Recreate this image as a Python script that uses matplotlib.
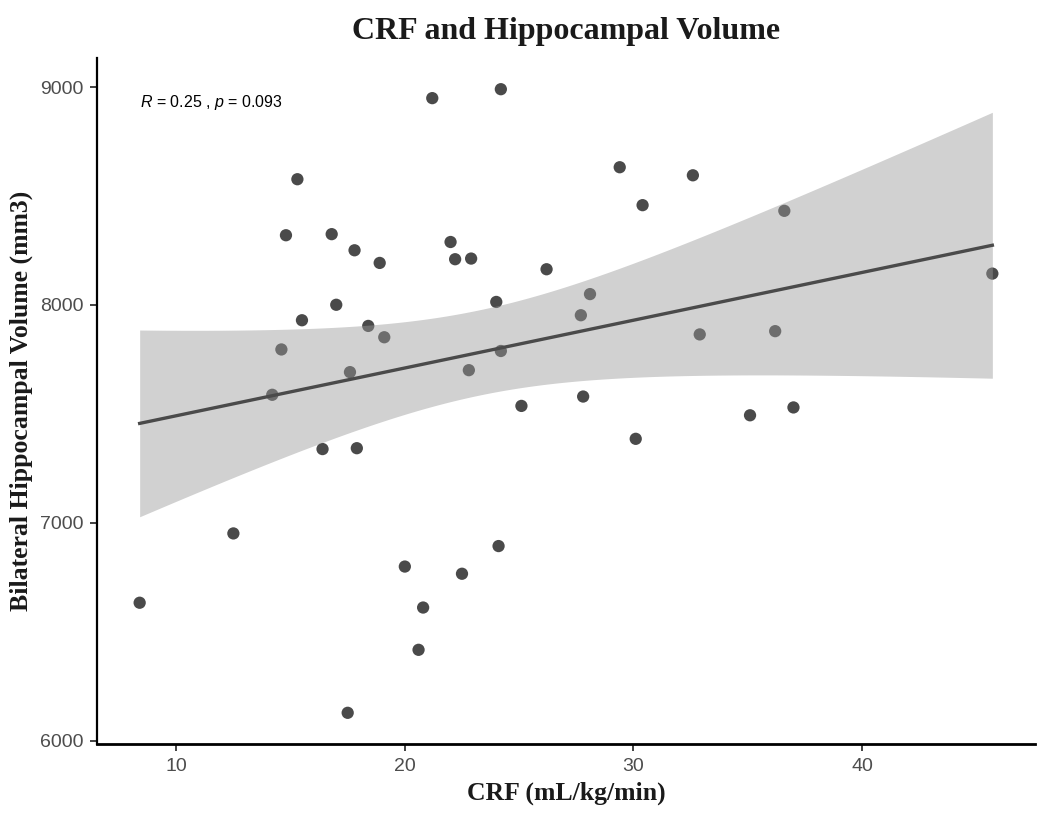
import numpy as np
import matplotlib
matplotlib.use("Agg")
import matplotlib.pyplot as plt

# CRF (mL/kg/min) and bilateral hippocampal volume (mm3)
crf = [21.2, 24.2, 15.3, 14.8, 16.8, 17.8, 18.9, 22.0, 22.2, 22.9,
       26.2, 24.0, 17.0, 15.5, 18.4, 19.1, 14.6, 24.2, 17.6, 22.8,
       14.2, 29.4, 32.6, 30.4, 36.6, 45.7, 28.1, 27.7, 32.9, 36.2,
       27.8, 25.1, 16.4, 17.9, 12.5, 8.4, 20.0, 22.5, 24.1, 20.8,
       20.6, 17.5, 35.1, 37.0, 30.1]
volume = [8949, 8990, 8577, 8320, 8325, 8251, 8193, 8289, 8210, 8213,
          8164, 8014, 8001, 7930, 7904, 7852, 7796, 7789, 7692, 7701,
          7588, 8632, 8595, 8458, 8432, 8144, 8050, 7953, 7865, 7880,
          7580, 7537, 7339, 7343, 6952, 6634, 6800, 6767, 6894, 6612,
          6418, 6129, 7494, 7530, 7386]
x_ticks = [10, 20, 30, 40]
y_ticks = [6000, 7000, 8000, 9000]
r_label = "$\\it{R}$ = 0.25 , $\\it{p}$ = 0.093"

plt.rcParams['mathtext.fontset'] = 'custom'
plt.rcParams['mathtext.rm'] = 'Liberation Sans'
plt.rcParams['mathtext.it'] = 'Liberation Sans:italic'

x = np.array(crf)
y = np.array(volume)

# linear fit with 95% confidence band (like geom_smooth(method = "lm"))
n = len(x)
slope, intercept = np.polyfit(x, y, 1)
resid = y - (slope * x + intercept)
s = np.sqrt(np.sum(resid ** 2) / (n - 2))
xs = np.linspace(x.min(), x.max(), 200)
fit = slope * xs + intercept
t_crit = 2.0167  # t(0.975, df = 43)
se = s * np.sqrt(1 / n + (xs - x.mean()) ** 2 / np.sum((x - x.mean()) ** 2))
lower = fit - t_crit * se
upper = fit + t_crit * se

fig = plt.figure(figsize=(10.5, 8.23), dpi=100)
ax = fig.add_axes([0.0924, 0.096, 0.8933, 0.8335])

ax.scatter(x, y, s=78, color='#4a4a4a', edgecolors='none', zorder=2)
ax.fill_between(xs, lower, upper, color='#999999', alpha=0.45, linewidth=0, zorder=3)
ax.plot(xs, fit, color='#4a4a4a', linewidth=2.4, zorder=4)

xr = x.max() - x.min()
yr = y.max() - y.min()
ax.set_xlim(x.min() - 0.05 * xr, x.max() + 0.05 * xr)
ax.set_ylim(y.min() - 0.05 * yr, y.max() + 0.05 * yr)
ax.set_xticks(x_ticks)
ax.set_yticks(y_ticks)

for side in ['top', 'right']:
    ax.spines[side].set_visible(False)
ax.spines['left'].set_linewidth(1.6)
ax.spines['bottom'].set_linewidth(2.0)
ax.tick_params(axis='both', length=5, width=1.3, color='#333333',
               labelsize=14, labelcolor='#4d4d4d', pad=5)
for lab in ax.get_xticklabels() + ax.get_yticklabels():
    lab.set_family('Liberation Sans')

ax.set_title("CRF and Hippocampal Volume", fontsize=23, fontweight='bold',
             family='Liberation Serif', color='#1a1a1a', pad=14)
ax.set_xlabel("CRF (mL/kg/min)", fontsize=18.5, fontweight='bold',
              family='Liberation Serif', color='#1a1a1a', labelpad=5)
ax.set_ylabel("Bilateral Hippocampal Volume (mm3)", fontsize=18.5, fontweight='bold',
              family='Liberation Serif', color='#1a1a1a', labelpad=5)

ax.text(x.min(), 8930, r_label, fontsize=11.5, family='Liberation Sans',
        ha='left', va='center', color='black')

fig.savefig("out.png", dpi=100)
